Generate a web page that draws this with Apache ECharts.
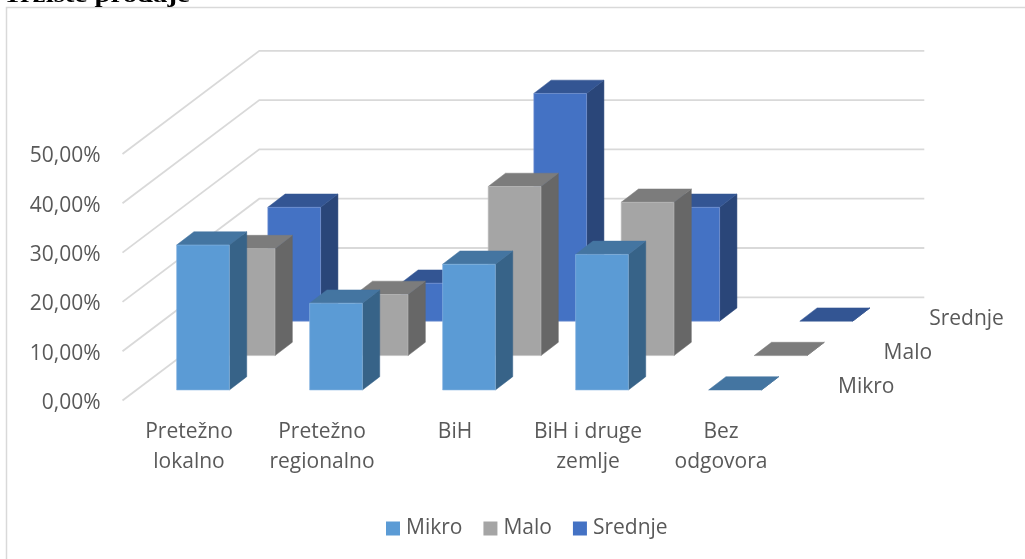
<!DOCTYPE html>
<html>
<head>
<meta charset="utf-8">
<style>html,body{margin:0;padding:0;background:#fff}#c{width:1025px;height:559px}</style>
<script src="https://cdn.jsdelivr.net/npm/echarts@6/dist/echarts.min.js"></script>
</head>
<body>
<div id="c"></div>
<script>
const categories = ['Pretežno\nlokalno', 'Pretežno\nregionalno', 'BiH', 'BiH i druge\nzemlje', 'Bez\nodgovora'];
const mikro = [29.4, 17.6, 25.5, 27.5, 0];
const malo = [21.7, 12.4, 34.3, 31.1, 0];
const srednje = [23.1, 7.7, 46.2, 23.1, 0];
const seriesNames = ['Mikro', 'Malo', 'Srednje'];
const ticks = [0, 10, 20, 30, 40, 50];
const titleText = 'Tržište prodaje';

const FONT = '"Open Sans", sans-serif';
const FS = 21;
const TXT = '#595959';
const GRID = '#D9D9D9';
// oblique projection of the depth axis
const DX = 45.6, DY = 34.4;
const palette = [
  {front: '#5B9BD5', top: '#4475A1', side: '#376388', edge: '#8DB9E2'},
  {front: '#A5A5A5', top: '#7C7C7C', side: '#676767', edge: '#BDBDBD'},
  {front: '#4472C4', top: '#335593', side: '#2A4679', edge: '#7C9BD6'}
];

function barSeries(name, values, depth) {
  const c = palette[depth];
  return {
    name, type: 'custom', z: 5 - depth, silent: true,
    itemStyle: {color: c.front},
    data: values.map((v, i) => [i, v]),
    clip: false,
    renderItem(params, api) {
      const top = api.coord([api.value(0), api.value(1)]);
      const base = api.coord([api.value(0), 0]);
      const w = api.size([1, 0])[0] * 0.397;
      const ox = (depth + 0.307) * DX, oy = (depth + 0.305) * DY;
      const bx = 0.38 * DX, by = 0.387 * DY;
      const l = top[0] + ox - w / 2, r = l + w, t = top[1] - oy, b = base[1] - oy;
      const poly = (points, fill) => ({type: 'polygon', shape: {points},
        style: {fill, stroke: fill, lineWidth: 0.5}});
      const kids = [
        poly([[r, t], [r + bx, t - by], [r + bx, b - by], [r, b]], c.side),
        poly([[l, t], [l + bx, t - by], [r + bx, t - by], [r, t]], c.top)
      ];
      if (b - t > 0.5) kids.push({type: 'rect', shape: {x: l, y: t, width: w, height: b - t},
        style: {fill: c.front, stroke: c.edge, lineWidth: 0.6}});
      return {type: 'group', children: kids};
    }
  };
}

const wallSeries = {
  name: 'walls', type: 'custom', z: 1, silent: true, clip: false,
  data: ticks.map(t => [0, t]),
  renderItem(params, api) {
    const y = api.coord([0, api.value(1)])[1];
    const x0 = params.coordSys.x, w = params.coordSys.width;
    const bx = DX * 3, by = DY * 3;
    return {type: 'polyline',
      shape: {points: [[x0, y], [x0 + bx, y - by], [x0 + bx + w, y - by]]},
      style: {stroke: GRID, lineWidth: 1.8, fill: 'none'}};
  }
};

const depthLabels = {
  name: 'depth', type: 'custom', z: 6, silent: true, clip: false,
  data: seriesNames.map((n, i) => [categories.length - 1, 0, i]),
  renderItem(params, api) {
    const i = api.value(2);
    const p = api.coord([api.value(0), 0]);
    return {type: 'text', style: {
      x: p[0] + 117 + i * DX, y: p[1] - 13 - i * DY,
      text: seriesNames[i], font: FS + 'px ' + FONT, fill: TXT,
      textAlign: 'left', textVerticalAlign: 'middle'}};
  }
};

const chart = echarts.init(document.getElementById('c'), null, {renderer: 'canvas'});
chart.setOption({
  animation: false,
  backgroundColor: '#fff',
  grid: {left: 122.5, top: 154, width: 665, height: 246.5, containLabel: false},
  xAxis: {type: 'category', data: categories, axisLine: {show: false}, axisTick: {show: false},
    splitLine: {show: false},
    axisLabel: {interval: 0, margin: 17, color: TXT, fontFamily: 'Open Sans', fontSize: FS, lineHeight: 30}},
  yAxis: {type: 'value', min: 0, max: 50, interval: 10, axisLine: {show: false}, axisTick: {show: false},
    splitLine: {show: false},
    axisLabel: {margin: 22, color: TXT, fontFamily: 'Open Sans', fontSize: FS, verticalAlign: 'top', lineHeight: 5,
      formatter: v => v.toFixed(2).replace('.', ',') + '%'}},
  legend: {data: seriesNames, left: 381, top: 513, icon: 'rect', itemWidth: 14, itemHeight: 14, itemGap: 21,
    selectedMode: false, textStyle: {color: TXT, fontFamily: 'Open Sans', fontSize: FS, padding: [0, 0, 0, 1]}},
  graphic: [
    {type: 'polyline', silent: true, z: 0, shape: {points: [[6.5, 559], [6.5, 7.5], [1025, 7.5]]},
      style: {stroke: GRID, lineWidth: 1.5, fill: 'none'}},
    {type: 'text', silent: true, z: 10, x: 3, y: 7.5, scaleX: 1.2,
      style: {text: titleText, font: 'bold 24px "Liberation Serif", serif', fill: '#000',
        textAlign: 'left', textVerticalAlign: 'bottom'}}
  ],
  series: [wallSeries, barSeries('Mikro', mikro, 0), barSeries('Malo', malo, 1), barSeries('Srednje', srednje, 2), depthLabels]
});
</script>
</body>
</html>
